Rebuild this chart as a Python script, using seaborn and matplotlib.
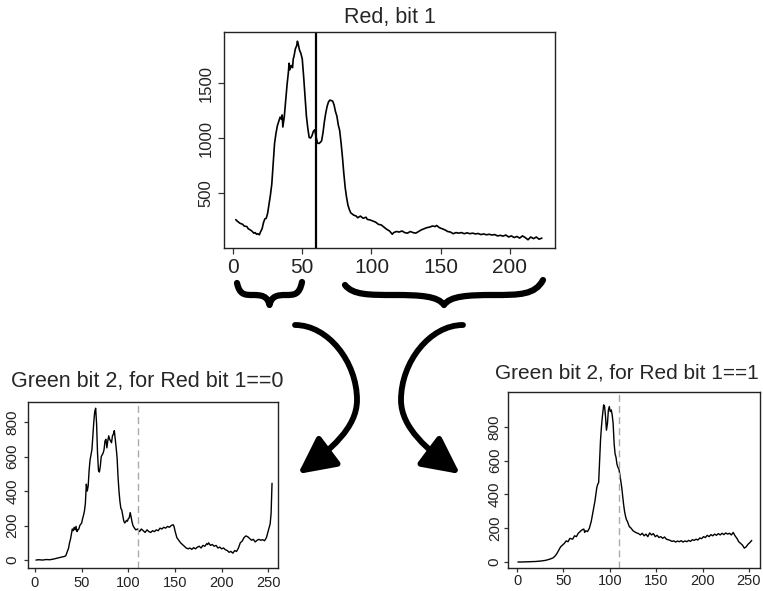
import matplotlib
matplotlib.use("Agg")
import matplotlib.pyplot as plt
import seaborn as sns
from matplotlib.path import Path
from matplotlib.patches import PathPatch, FancyArrowPatch

# Red, bit 1 histogram
red_x = [2, 3, 5, 7, 8, 10, 11, 13, 14, 15, 16, 17, 18, 19, 20, 21, 22, 23, 24, 25,
         26, 27, 28, 29, 30, 31, 32, 33, 34, 35, 35.5, 36, 37, 38, 39, 40, 40.5, 41, 42, 43,
         43.5, 44, 45, 46, 46.5, 47, 48, 49, 50, 51, 52, 53, 54, 55, 56, 57, 58, 59, 60, 61,
         62, 63, 64, 65, 66, 67, 68, 69, 70, 71, 72, 73, 74, 75, 76, 77, 78, 79, 80, 81,
         82, 83, 84, 85, 87, 89, 90, 92, 94, 96, 97, 99, 101, 103, 105, 107, 109, 111, 113, 115,
         116, 118, 120, 122, 124, 126, 128, 130, 132, 134, 136, 138, 140, 142, 144, 146, 147, 149, 151, 153,
         155, 157, 159, 161, 163, 165, 167, 169, 171, 173, 175, 177, 179, 181, 183, 185, 187, 189, 191, 193,
         195, 197, 199, 201, 203, 205, 207, 209, 211, 213, 215, 217, 219, 221, 223]
red_y = [258, 245, 225, 215, 200, 195, 175, 160, 150, 135, 140, 125, 130, 120, 150, 175, 230, 265, 270, 315,
         400, 480, 580, 760, 950, 1040, 1110, 1150, 1190, 1170, 1210, 1100, 1190, 1340, 1480, 1600, 1680, 1620, 1660, 1640,
         1720, 1740, 1810, 1840, 1880, 1860, 1800, 1770, 1720, 1560, 1380, 1200, 1090, 1005, 1000, 1020, 1060, 1075, 1010, 955,
         950, 960, 975, 1050, 1150, 1230, 1290, 1330, 1345, 1340, 1335, 1300, 1240, 1200, 1120, 1070, 960, 830, 680, 550,
         460, 390, 350, 320, 300, 290, 275, 290, 270, 280, 260, 255, 245, 235, 215, 210, 190, 170, 155, 125,
         140, 150, 145, 155, 140, 135, 150, 140, 135, 150, 165, 175, 185, 190, 200, 195, 205, 185, 175, 165,
         150, 145, 130, 140, 135, 140, 130, 138, 130, 135, 128, 132, 122, 128, 120, 125, 118, 122, 110, 115,
         108, 118, 100, 110, 95, 105, 90, 110, 95, 75, 100, 85, 100, 80, 90]
red_cut = 60

# Green bit 2, for Red bit 1 == 0
g0_x = [1, 4, 8, 12, 16, 20, 23, 26, 29, 31, 33, 34, 36, 37, 38, 39, 40, 41, 42, 43,
        44, 45, 46, 47, 48, 50, 51, 52, 53, 54, 55, 56, 57, 58, 59, 60, 61, 62, 63, 64,
        65, 66, 67, 68, 69, 70, 71, 72, 73, 74, 75, 76, 77, 78, 79, 80, 81, 82, 83, 84,
        85, 86, 87, 88, 89, 90, 91, 92, 93, 94, 95, 96, 97, 98, 99, 100, 101, 102, 103, 104,
        105, 106, 108, 110, 112, 114, 116, 118, 120, 122, 124, 126, 128, 130, 132, 134, 136, 138, 140, 142,
        144, 146, 148, 149, 150, 152, 154, 156, 158, 160, 162, 164, 166, 168, 170, 172, 174, 176, 178, 180,
        182, 184, 185, 186, 188, 190, 192, 194, 196, 198, 200, 202, 204, 206, 208, 210, 212, 214, 216, 218,
        220, 222, 224, 226, 228, 230, 232, 234, 236, 238, 240, 242, 244, 246, 248, 250, 252, 253, 254]
g0_y = [0, 2, 0, 3, 2, 6, 10, 14, 18, 20, 25, 40, 70, 100, 120, 150, 180, 170, 190, 175,
        195, 165, 175, 180, 200, 215, 240, 260, 285, 330, 440, 400, 430, 520, 580, 610, 640, 720, 800, 860,
        880, 790, 620, 520, 510, 545, 600, 610, 620, 640, 690, 700, 650, 690, 720, 700, 690, 680, 720, 730,
        750, 700, 650, 590, 480, 400, 340, 300, 290, 260, 230, 215, 220, 230, 225, 240, 245, 275, 250, 220,
        200, 190, 175, 180, 165, 180, 170, 160, 175, 165, 160, 170, 165, 175, 170, 185, 180, 190, 185, 195,
        190, 200, 205, 195, 170, 130, 115, 100, 90, 80, 70, 65, 70, 62, 72, 65, 75, 80, 70, 85,
        80, 95, 90, 100, 85, 90, 80, 85, 70, 75, 65, 70, 60, 55, 45, 50, 40, 55, 50, 70,
        100, 110, 130, 140, 135, 125, 115, 120, 105, 115, 120, 115, 118, 112, 130, 170, 210, 270, 445]
g0_cut = 110

# Green bit 2, for Red bit 1 == 1
g1_x = [1, 5, 10, 15, 20, 26, 31, 36, 39, 41, 43, 45, 47, 49, 51, 53, 55, 57, 60, 62,
        64, 66, 68, 70, 72, 73, 74, 76, 78, 80, 82, 84, 85, 86, 87, 88, 89, 90, 91, 92,
        93.4, 94.4, 95.4, 96.4, 97.5, 98.5, 99.5, 100.5, 101.6, 102.6, 103.6, 104.7, 105.7, 106.7, 107.7, 108.8, 109.8, 110.8, 111.8, 112.9,
        113.9, 114.9, 115.9, 117, 118, 119, 120, 121,
        123, 125, 127, 129, 131, 133, 135, 137, 139, 141, 143, 145, 147, 149, 151, 153, 155, 157, 159, 161,
        163, 165, 167, 169, 171, 173, 175, 177, 179, 181, 183, 185, 187, 189, 191, 193, 195, 197, 199, 201,
        203, 205, 207, 209, 211, 213, 215, 217, 219, 221, 223, 225, 227, 229, 231, 233, 235, 237, 239, 241,
        243, 245, 247, 249, 251, 253]
g1_y = [0, 0, 1, 2, 3, 6, 10, 18, 25, 35, 50, 70, 90, 100, 110, 125, 120, 140, 135, 155,
        150, 170, 180, 190, 195, 175, 185, 180, 200, 240, 300, 360, 400, 440, 460, 470, 600, 720, 800, 860,
        930, 920, 860, 780, 820, 900, 920, 890, 900, 870, 820, 700, 640, 620, 580, 560, 550, 520, 480, 440,
        390, 340, 300, 270, 250, 240, 225, 210,
        200, 185, 178, 172, 168, 160, 170, 155, 165, 150, 172, 160, 168, 150, 158, 145, 150, 140, 148, 135,
        132, 128, 122, 125, 118, 124, 120, 126, 118, 125, 120, 128, 122, 132, 128, 135, 130, 142, 138, 150,
        145, 158, 150, 162, 155, 165, 158, 168, 160, 170, 162, 172, 165, 170, 160, 175, 155, 140, 120, 110,
        100, 82, 90, 105, 115, 128]
g1_cut = 110

titles = ["Red, bit 1", "Green bit 2, for Red bit 1==0", "Green bit 2, for Red bit 1==1"]

sns.set_style("white")
plt.rcParams['font.family'] = ['Liberation Sans', 'DejaVu Sans']

W, H = 763, 591
fig = plt.figure(figsize=(W / 100, H / 100), dpi=100)


def box(l, t, r, b):
    return [l / W, 1 - b / H, (r - l) / W, (b - t) / H]


def style(ax, xsize, ysize, tlen, pad):
    for s in ax.spines.values():
        s.set_visible(True)
        s.set_color("#222222")
        s.set_linewidth(1.0)
    ax.tick_params(axis="both", direction="out", length=tlen, width=0.9,
                   color="#333333", labelcolor="#222222", pad=pad)
    ax.tick_params(axis="x", labelsize=xsize, bottom=True)
    ax.tick_params(axis="y", labelsize=ysize, left=True, labelrotation=90)
    for lab in ax.get_yticklabels():
        lab.set_va("center")
    ax.set_xlabel("")
    ax.set_ylabel("")


# top panel
ax0 = fig.add_axes(box(224, 32, 555, 248))
sns.lineplot(x=red_x, y=red_y, ax=ax0, color="black", linewidth=1.2,
             estimator=None, sort=False)
ax0.axvline(red_cut, color="black", linewidth=1.6)
ax0.set_xlim(-6.5, 232.5)
ax0.set_ylim(0, 1964)
ax0.set_xticks([0, 50, 100, 150, 200])
ax0.set_yticks([500, 1000, 1500])
style(ax0, 15, 12, 4.5, 3)

# bottom left
ax1 = fig.add_axes(box(28, 402, 278, 568))
sns.lineplot(x=g0_x, y=g0_y, ax=ax1, color="black", linewidth=1.0,
             estimator=None, sort=False)
ax1.axvline(g0_cut, color="#aaaaaa", linewidth=1.0, linestyle=(0, (5, 3)))
ax1.set_xlim(-7.5, 260.4)
ax1.set_ylim(-46, 916)
ax1.set_xticks([0, 50, 100, 150, 200, 250])
ax1.set_yticks([0, 200, 400, 600, 800])
style(ax1, 10.5, 11, 3, 3)

# bottom right
ax2 = fig.add_axes(box(508, 392, 760, 568))
sns.lineplot(x=g1_x, y=g1_y, ax=ax2, color="black", linewidth=1.0,
             estimator=None, sort=False)
ax2.axvline(g1_cut, color="#aaaaaa", linewidth=1.0, linestyle=(0, (5, 3)))
ax2.set_xlim(-9.7, 261.9)
ax2.set_ylim(-35.5, 1006)
ax2.set_xticks([0, 50, 100, 150, 200, 250])
ax2.set_yticks([0, 200, 400, 600, 800])
style(ax2, 10.5, 11, 3, 1.5)

fig.text(390 / W, 1 - 17 / H, titles[0], ha="center", va="center", fontsize=15.5)
fig.text(147 / W, 1 - 382 / H, titles[1], ha="center", va="center", fontsize=15.5)
fig.text(627 / W, 1 - 373 / H, titles[2], ha="center", va="center", fontsize=15)

# overlay for braces and arrows, in pixel units
ov = fig.add_axes([0, 0, 1, 1])
ov.set_xlim(0, W)
ov.set_ylim(H, 0)
ov.axis("off")
ov.patch.set_alpha(0)


def brace(ax, x0, x1, y0, y1, ymid, ytip):
    xm = (x0 + x1) / 2
    w = x1 - x0
    verts = [(x0, y0),
             (x0 + 0.04 * w, ymid), (x0 + 0.12 * w, ymid), (x0 + 0.25 * w, ymid),
             (xm - 0.12 * w, ymid), (xm - 0.03 * w, ymid + 1), (xm, ytip),
             (xm + 0.03 * w, ymid + 1), (xm + 0.12 * w, ymid), (x1 - 0.25 * w, ymid),
             (x1 - 0.12 * w, ymid), (x1 - 0.04 * w, ymid), (x1, y1)]
    codes = [Path.MOVETO] + [Path.CURVE4] * 12
    ax.add_patch(PathPatch(Path(verts, codes), facecolor="none", edgecolor="black",
                           linewidth=4.5, capstyle="round", joinstyle="round"))


brace(ov, 237, 302, 283, 282, 295, 305)
brace(ov, 345, 543, 285, 280, 295, 305)

arc_codes = [Path.MOVETO] + [Path.CURVE4] * 6
arc_left = Path([(295, 325), (328, 325), (357, 362), (357, 400),
                 (357, 428), (330, 450), (298, 474)], arc_codes)
arc_right = Path([(463, 325), (430, 325), (401, 362), (401, 400),
                  (401, 428), (428, 450), (460, 474)], arc_codes)
for p in (arc_left, arc_right):
    ov.add_patch(FancyArrowPatch(path=p, arrowstyle="-|>,head_length=0.9,head_width=0.45",
                                 mutation_scale=25, linewidth=4.2, color="black"))

fig.savefig("out.png", dpi=100)
